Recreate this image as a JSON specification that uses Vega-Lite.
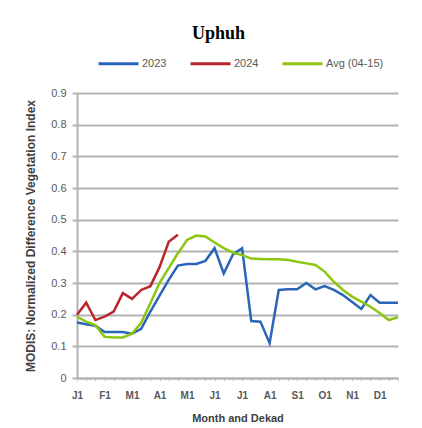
{
  "$schema": "https://vega.github.io/schema/vega-lite/v6.json",
  "autosize": "none",
  "width": 321,
  "height": 285,
  "padding": {"left": 77, "top": 93, "right": 24, "bottom": 50},
  "background": "white",
  "title": {
    "text": "Uphuh",
    "font": "Liberation Serif",
    "fontSize": 18,
    "fontWeight": "bold",
    "color": "#000000",
    "anchor": "middle",
    "dx": -19,
    "offset": -1
  },
  "data": {
    "values": [
      {"i": 0, "series": "2023", "v": 0.175}, {"i": 1, "series": "2023", "v": 0.17}, {"i": 2, "series": "2023", "v": 0.165}, {"i": 3, "series": "2023", "v": 0.145}, {"i": 4, "series": "2023", "v": 0.145}, {"i": 5, "series": "2023", "v": 0.145}, {"i": 6, "series": "2023", "v": 0.14}, {"i": 7, "series": "2023", "v": 0.155}, {"i": 8, "series": "2023", "v": 0.21}, {"i": 9, "series": "2023", "v": 0.26}, {"i": 10, "series": "2023", "v": 0.31}, {"i": 11, "series": "2023", "v": 0.355}, {"i": 12, "series": "2023", "v": 0.36}, {"i": 13, "series": "2023", "v": 0.36}, {"i": 14, "series": "2023", "v": 0.37}, {"i": 15, "series": "2023", "v": 0.41}, {"i": 16, "series": "2023", "v": 0.33}, {"i": 17, "series": "2023", "v": 0.39}, {"i": 18, "series": "2023", "v": 0.41}, {"i": 19, "series": "2023", "v": 0.18}, {"i": 20, "series": "2023", "v": 0.178}, {"i": 21, "series": "2023", "v": 0.11}, {"i": 22, "series": "2023", "v": 0.278}, {"i": 23, "series": "2023", "v": 0.28}, {"i": 24, "series": "2023", "v": 0.28}, {"i": 25, "series": "2023", "v": 0.3}, {"i": 26, "series": "2023", "v": 0.28}, {"i": 27, "series": "2023", "v": 0.29}, {"i": 28, "series": "2023", "v": 0.278}, {"i": 29, "series": "2023", "v": 0.262}, {"i": 30, "series": "2023", "v": 0.24}, {"i": 31, "series": "2023", "v": 0.218}, {"i": 32, "series": "2023", "v": 0.262}, {"i": 33, "series": "2023", "v": 0.238}, {"i": 34, "series": "2023", "v": 0.238}, {"i": 35, "series": "2023", "v": 0.238},
      {"i": 0, "series": "2024", "v": 0.2}, {"i": 1, "series": "2024", "v": 0.238}, {"i": 2, "series": "2024", "v": 0.183}, {"i": 3, "series": "2024", "v": 0.194}, {"i": 4, "series": "2024", "v": 0.21}, {"i": 5, "series": "2024", "v": 0.268}, {"i": 6, "series": "2024", "v": 0.25}, {"i": 7, "series": "2024", "v": 0.278}, {"i": 8, "series": "2024", "v": 0.29}, {"i": 9, "series": "2024", "v": 0.35}, {"i": 10, "series": "2024", "v": 0.43}, {"i": 11, "series": "2024", "v": 0.452},
      {"i": 0, "series": "Avg (04-15)", "v": 0.193}, {"i": 1, "series": "Avg (04-15)", "v": 0.178}, {"i": 2, "series": "Avg (04-15)", "v": 0.167}, {"i": 3, "series": "Avg (04-15)", "v": 0.13}, {"i": 4, "series": "Avg (04-15)", "v": 0.128}, {"i": 5, "series": "Avg (04-15)", "v": 0.128}, {"i": 6, "series": "Avg (04-15)", "v": 0.14}, {"i": 7, "series": "Avg (04-15)", "v": 0.174}, {"i": 8, "series": "Avg (04-15)", "v": 0.236}, {"i": 9, "series": "Avg (04-15)", "v": 0.3}, {"i": 10, "series": "Avg (04-15)", "v": 0.347}, {"i": 11, "series": "Avg (04-15)", "v": 0.394}, {"i": 12, "series": "Avg (04-15)", "v": 0.436}, {"i": 13, "series": "Avg (04-15)", "v": 0.45}, {"i": 14, "series": "Avg (04-15)", "v": 0.447}, {"i": 15, "series": "Avg (04-15)", "v": 0.428}, {"i": 16, "series": "Avg (04-15)", "v": 0.41}, {"i": 17, "series": "Avg (04-15)", "v": 0.396}, {"i": 18, "series": "Avg (04-15)", "v": 0.388}, {"i": 19, "series": "Avg (04-15)", "v": 0.377}, {"i": 20, "series": "Avg (04-15)", "v": 0.376}, {"i": 21, "series": "Avg (04-15)", "v": 0.375}, {"i": 22, "series": "Avg (04-15)", "v": 0.375}, {"i": 23, "series": "Avg (04-15)", "v": 0.373}, {"i": 24, "series": "Avg (04-15)", "v": 0.367}, {"i": 25, "series": "Avg (04-15)", "v": 0.362}, {"i": 26, "series": "Avg (04-15)", "v": 0.357}, {"i": 27, "series": "Avg (04-15)", "v": 0.336}, {"i": 28, "series": "Avg (04-15)", "v": 0.304}, {"i": 29, "series": "Avg (04-15)", "v": 0.278}, {"i": 30, "series": "Avg (04-15)", "v": 0.257}, {"i": 31, "series": "Avg (04-15)", "v": 0.241}, {"i": 32, "series": "Avg (04-15)", "v": 0.225}, {"i": 33, "series": "Avg (04-15)", "v": 0.205}, {"i": 34, "series": "Avg (04-15)", "v": 0.183}, {"i": 35, "series": "Avg (04-15)", "v": 0.192}
    ]
  },
  "mark": {"type": "line", "strokeWidth": 2.5, "interpolate": "linear"},
  "encoding": {
    "x": {
      "field": "i",
      "type": "quantitative",
      "scale": {"domain": [0, 35], "nice": false, "zero": false},
      "axis": {
        "title": "Month and Dekad",
        "titleFont": "Liberation Sans",
        "titleFontSize": 11,
        "titleFontWeight": "bold",
        "titleColor": "#404040",
        "titlePadding": 12,
        "values": [0,1,2,3,4,5,6,7,8,9,10,11,12,13,14,15,16,17,18,19,20,21,22,23,24,25,26,27,28,29,30,31,32,33,34,35],
        "labelExpr": "datum.value % 3 == 0 ? ['J1','F1','M1','A1','M1','J1','J1','A1','S1','O1','N1','D1'][datum.value / 3] : ''",
        "labelFont": "Liberation Sans",
        "labelFontSize": 10,
        "labelFontWeight": "bold",
        "labelColor": "#595959",
        "labelPadding": 9,
        "labelOverlap": false,
        "labelFlush": false,
        "grid": false,
        "domainColor": "#b3b3b3",
        "domainWidth": 2,
        "tickColor": "#c8c8c8",
        "tickSize": 3,
        "tickWidth": 1
      }
    },
    "y": {
      "field": "v",
      "type": "quantitative",
      "scale": {"domain": [0, 0.9], "nice": false},
      "axis": {
        "title": "MODIS: Normalized Difference Vegetation Index",
        "titleFont": "Liberation Sans",
        "titleFontSize": 12,
        "titleFontWeight": "bold",
        "titleColor": "#404040",
        "titlePadding": 13,
        "values": [0, 0.1, 0.2, 0.3, 0.4, 0.5, 0.6, 0.7, 0.8, 0.9],
        "labelExpr": "datum.value == 0 ? '0' : format(datum.value, '.1f')",
        "labelFont": "Liberation Sans",
        "labelFontSize": 11,
        "labelColor": "#595959",
        "labelPadding": 6,
        "grid": true,
        "gridColor": "#b3b3b3",
        "gridWidth": 2,
        "domainColor": "#b3b3b3",
        "domainWidth": 2,
        "tickColor": "#b3b3b3",
        "tickSize": 5,
        "tickWidth": 2
      }
    },
    "color": {
      "field": "series",
      "type": "nominal",
      "scale": {"domain": ["2023", "2024", "Avg (04-15)"], "range": ["#2a65b8", "#b8262b", "#8cc610"]},
      "legend": {
        "title": null,
        "orient": "none",
        "direction": "horizontal",
        "legendX": 20,
        "legendY": -51,
        "symbolType": "stroke",
        "symbolSize": 1600,
        "symbolStrokeWidth": 3,
        "labelFont": "Liberation Sans",
        "labelFontSize": 11,
        "labelColor": "#595959",
        "labelOffset": 2,
        "columnPadding": 17
      }
    }
  },
  "config": {
    "view": {"stroke": null},
    "axisY": {"titleAngle": -90}
  }
}
